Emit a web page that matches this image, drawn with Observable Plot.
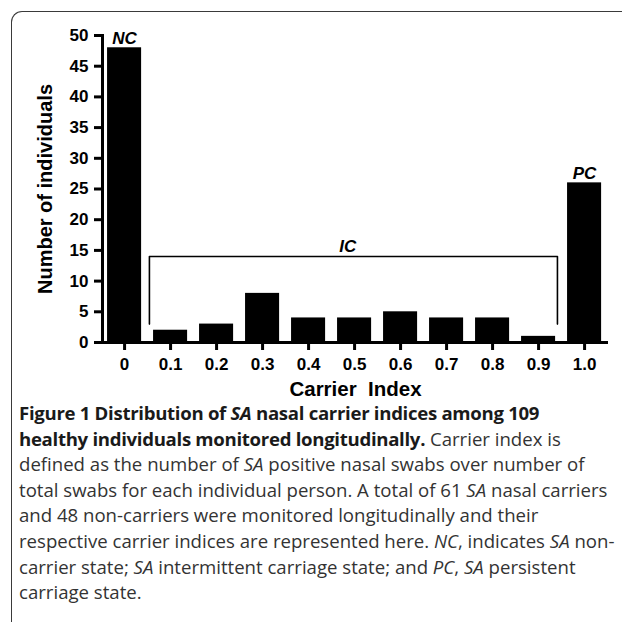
<!DOCTYPE html>
<html><head><meta charset="utf-8">
<script src="https://cdn.jsdelivr.net/npm/d3@7"></script>
<script src="https://cdn.jsdelivr.net/npm/@observablehq/plot@0.6"></script>
<style>
html,body{margin:0;padding:0;width:622px;height:622px;overflow:hidden;background:#fff;}
#chart svg{display:block}
#border{position:absolute;left:11px;top:11px;width:660px;height:660px;border-top:1.5px solid #3a3a3a;border-left:1.5px solid #3a3a3a;border-top-left-radius:11px;pointer-events:none}
#caption{position:absolute;left:19px;top:400px;font-family:"Open Sans",sans-serif;font-size:18.6px;line-height:25.6px;color:#333;white-space:nowrap}
#caption b{color:#1a1a1a;font-weight:700;letter-spacing:-0.3px}
</style></head><body>
<div id="chart"></div>
<div id="caption"></div>
<div id="border"></div>
<script>
// ---- data ----
const carrierIndex = [0, 0.1, 0.2, 0.3, 0.4, 0.5, 0.6, 0.7, 0.8, 0.9, 1.0];
const counts = [48, 2, 3, 8, 4, 4, 5, 4, 4, 1, 26];
const tickLabels = ["0", "0.1", "0.2", "0.3", "0.4", "0.5", "0.6", "0.7", "0.8", "0.9", "1.0"];
const yTicks = [0, 5, 10, 15, 20, 25, 30, 35, 40, 45, 50];
const groupNames = ["NC", "PC"];
const groupIndex = [0, 1.0];
const groupCounts = [48, 26];
const icName = "IC";
const icLabelX = 0.485;
const icBracketX = [0.054, 0.941];
const icBracketY = [3, 14];
const xTitle = "Carrier\u00a0 Index";
const yTitle = "Number of individuals";
const captionLines = [
  "<b>Figure 1 Distribution of <i>SA</i> nasal carrier indices among 109</b>",
  "<b>healthy individuals monitored longitudinally.</b> Carrier index is",
  "defined as the number of <i>SA</i> positive nasal swabs over number of",
  "total swabs for each individual person. A total of 61 <i>SA</i> nasal carriers",
  "and 48 non-carriers were monitored longitudinally and their",
  "respective carrier indices are represented here. <i>NC</i>, indicates <i>SA</i> non-",
  "carrier state; <i>SA</i> intermittent carriage state; and <i>PC</i>, <i>SA</i> persistent",
  "carriage state."
];

// ---- build ----
const bars = carrierIndex.map((x, i) => ({x, n: counts[i]}));
const groups = groupNames.map((name, i) => ({name, x: groupIndex[i], n: groupCounts[i]}));
const bracket = [
  {x: icBracketX[0], y: icBracketY[0]},
  {x: icBracketX[0], y: icBracketY[1]},
  {x: icBracketX[1], y: icBracketY[1]},
  {x: icBracketX[1], y: icBracketY[0]}
];
const halfW = 0.037;
const FONT = "'Liberation Sans', Arial, Helvetica, sans-serif";

const chart = Plot.plot({
  width: 622, height: 400,
  marginTop: 35, marginBottom: 58, marginLeft: 102, marginRight: 14,
  style: {fontFamily: FONT, fontWeight: "bold", fontSize: "17px", color: "#000", background: "transparent", overflow: "visible"},
  x: {domain: [-0.048, 1.052]},
  y: {domain: [0, 50]},
  marks: [
    Plot.rectY(bars, {x1: d => d.x - halfW, x2: d => d.x + halfW, y1: 0, y2: "n", fill: "#000"}),
    Plot.ruleY([0], {stroke: "#000", strokeWidth: 3}),
    Plot.frame({anchor: "left", stroke: "#000", strokeWidth: 3}),
    Plot.axisY({ticks: yTicks, tickSize: 8, tickPadding: 6, strokeWidth: 3, label: null, fontSize: 17}),
    Plot.axisX({ticks: carrierIndex, tickFormat: d => tickLabels[carrierIndex.indexOf(d)], tickSize: 8, tickPadding: 7, strokeWidth: 3, label: null, fontSize: 17}),
    Plot.line(bracket, {x: "x", y: "y", stroke: "#000", strokeWidth: 1.6}),
    Plot.text(groups, {x: "x", y: "n", text: "name", dy: -4, lineAnchor: "bottom", fontStyle: "italic", fontWeight: "bold", fontSize: 17}),
    Plot.text([icName], {x: icLabelX, y: icBracketY[1], dy: -5, lineAnchor: "bottom", fontStyle: "italic", fontWeight: "bold", fontSize: 17}),
    Plot.text([yTitle], {frameAnchor: "left", textAnchor: "middle", rotate: -90, dx: -57, fontSize: 20, fontWeight: "bold"}),
    Plot.text([xTitle], {frameAnchor: "bottom", dy: 53, lineAnchor: "bottom", fontSize: 20.5, fontWeight: "bold"})
  ]
});
document.getElementById("chart").appendChild(chart);
document.getElementById("caption").innerHTML = captionLines.join("<br>");
</script>
</body></html>
